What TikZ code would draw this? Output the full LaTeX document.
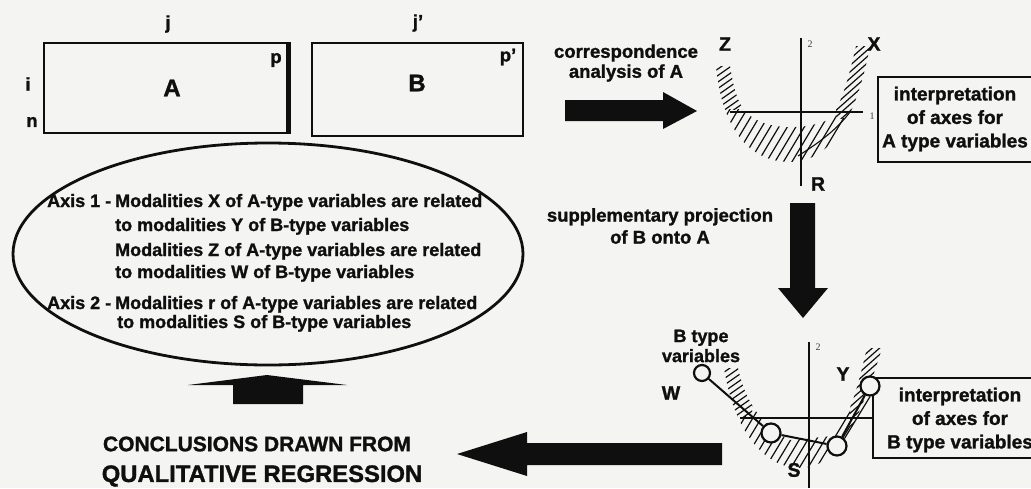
\documentclass[tikz,border=0pt]{standalone}
\usepackage{fontspec}
\setmainfont{Liberation Sans}[BoldFeatures={FakeBold=1.3}]
\newfontfamily\axisfont{Liberation Serif}
\usetikzlibrary{shapes.geometric}
\definecolor{paper}{RGB}{244,244,242}
\definecolor{ink}{RGB}{15,15,15}
\tikzset{
  lbl/.style={font=\fontsize{18.5}{20}\selectfont\bfseries, text=ink, inner sep=0pt},
  etxt/.style={font=\fontsize{18}{20}\selectfont\bfseries, text=ink, inner sep=0pt, anchor=base west},
  boxtxt/.style={font=\fontsize{19}{23.5}\selectfont\bfseries, text=ink, inner sep=0pt, align=center},
  letter/.style={font=\fontsize{19.5}{20}\selectfont\bfseries, text=ink, inner sep=0pt},
  axnum/.style={font=\fontsize{10}{10}\selectfont\axisfont, text=ink!80, inner sep=0pt},
  frame/.style={draw=ink, line width=2.5pt, inner sep=0pt},
  axisline/.style={draw=ink, line width=1.3pt},
  hatch/.style={draw=ink, line width=1.2pt},
  pt/.style={circle, draw=ink, line width=2.2pt, fill=paper, inner sep=0pt},
  conn/.style={draw=ink, line width=2pt},
  blockarrow/.style={fill=ink},
}
\begin{document}
\begin{tikzpicture}[x=1pt,y=-1pt]
\clip (0,0) rectangle (1031,488);
\fill[paper] (0,0) rectangle (1031,488);

% ---------- data tables A and B ----------
\node[frame, minimum width=244pt, minimum height=90pt] (matA) at (166,88) {};
\draw[ink, line width=5pt] ([xshift=-1pt]matA.north east) -- ([xshift=-1pt]matA.south east);
\node[frame, minimum width=211pt, minimum height=93pt] (matB) at (417.5,89.5) {};
\node[font=\fontsize{24}{24}\selectfont\bfseries, text=ink, inner sep=0pt] (labA) at (172,88) {A};
\node[font=\fontsize{24}{24}\selectfont\bfseries, text=ink, inner sep=0pt] (labB) at (417,83) {B};
\node[lbl] (colj)  at (168,24) {j};
\node[lbl] (colj2) at (418,23) {j'};
\node[lbl] (rowi)  at (28,84) {i};
\node[lbl] (rown)  at (32,122) {n};
\node[lbl] (colp)  at (276,60) {p};
\node[lbl] (colp2) at (508,57) {p'};

% ---------- step 1 ----------
\node[lbl, align=center] (step1) at (626,63) {correspondence\\analysis of A};
\fill[blockarrow] (565,100) -- (663,100) -- (663,92) -- (697,111) -- (663,129) -- (663,121) -- (565,121) -- cycle;

% ---------- factor plane of A ----------
\begin{scope}
  \clip (716,66) .. controls (722,130) and (750,162) .. (790,162)
        .. controls (830,162) and (856,120) .. (870,46) -- (856,46)
        .. controls (847,85) and (840,108) .. (828,120)
        .. controls (805,130) and (770,130) .. (752,117)
        .. controls (738,108) and (734,90) .. (730,66) -- cycle;
  % left arm
  \begin{scope}
    \clip (690,30) rectangle (742,109);
    \foreach \k in {0,...,20} \draw[hatch] (690,30+\k*6.5) -- ++(70,-49);
  \end{scope}
  % right arm
  \begin{scope}
    \clip (836,30) rectangle (900,118);
    \foreach \k in {0,...,22} \draw[hatch] (820,40+\k*6.5) -- ++(70,-62);
  \end{scope}
  % bottom of the curve
  \begin{scope}
    \clip (742,118) rectangle (900,200) (742,30) rectangle (836,118) (690,109) rectangle (742,200);
    \foreach \k in {0,...,36} \draw[hatch] (650+\k*8.5,200) -- ++(90,-150);
  \end{scope}
\end{scope}
\draw[ink, line width=1.1pt] (798,156) .. controls (815,145) and (835,132) .. (850,112);
\draw[axisline] (801,38) -- (801,186);
\draw[axisline] (730,112) -- (863,112);
\node[axnum] (a2) at (810,44) {2};
\node[axnum] (a1) at (872,116) {1};
\node[letter] (modZ) at (725,44) {Z};
\node[letter] (modX) at (874,44) {X};
\node[letter] (modR) at (818,184) {R};

\node[frame, minimum width=170pt, minimum height=85pt] (boxA) at (963,119.5) {};
\node[boxtxt] (txtA) at (955,119) {interpretation\\of axes for\\A type variables};

% ---------- step 2 ----------
\node[lbl, align=center, font=\fontsize{18.5}{22}\selectfont\bfseries] (step2) at (660,226) {supplementary projection\\of B onto A};
\fill[blockarrow] (790,203) -- (815,203) -- (815,288) -- (828,288) -- (803,318) -- (778,288) -- (790,288) -- cycle;

% ---------- factor plane with B projected ----------
\begin{scope}
  \clip (724,368) .. controls (734,432) and (765,468) .. (800,468)
        .. controls (838,468) and (860,420) .. (882,348) -- (867,348)
        .. controls (858,385) and (850,420) .. (832,436) -- (790,440)
        .. controls (760,425) and (745,400) .. (738,368) -- cycle;
  % left arm
  \begin{scope}
    \clip (700,340) rectangle (752,416);
    \foreach \k in {0,...,20} \draw[hatch] (700,350+\k*6.5) -- ++(70,-49);
  \end{scope}
  % right arm
  \begin{scope}
    \clip (850,330) rectangle (900,432);
    \foreach \k in {0,...,24} \draw[hatch] (830,340+\k*6.5) -- ++(70,-62);
  \end{scope}
  % bottom of the curve
  \begin{scope}
    \clip (752,432) rectangle (900,488) (752,330) rectangle (850,432) (700,416) rectangle (752,488);
    \foreach \k in {0,...,36} \draw[hatch] (650+\k*8.5,490) -- ++(100,-166);
  \end{scope}
\end{scope}
\draw[axisline] (809,342) -- (809,488);
\draw[axisline] (740,418) -- (872,418);
\node[axnum] (b2) at (818,347) {2};

\node[frame, minimum width=170pt, minimum height=80pt] (boxB) at (958,418) {};
\node[boxtxt] (txtB) at (960,420) {interpretation\\of axes for\\B type variables};

\node[pt, minimum size=16pt] (ptW) at (702,373) {};
\node[pt, minimum size=19pt] (ptA) at (771,433) {};
\node[pt, minimum size=19pt] (ptB) at (837,446) {};
\node[pt, minimum size=19pt] (ptY) at (870,386) {};
\draw[conn] (ptW) -- (ptA);
\draw[conn] (ptA) -- (ptB);
\draw[conn] (ptB) -- (ptY);
\draw[ink, line width=1.2pt] (ptB.north east) -- (ptY.south);

\node[lbl, align=center, font=\fontsize{18}{20}\selectfont\bfseries] (btype) at (701,346) {B type\\variables};
\node[letter] (modW) at (671,393) {W};
\node[letter] (modY) at (843,374) {Y};
\node[letter] (modS) at (794,470) {S};

% ---------- conclusions ----------
\fill[blockarrow] (722,443) -- (527,443) -- (527,432) -- (457,454) -- (527,476) -- (527,465) -- (722,465) -- cycle;
\node[font=\fontsize{21}{21}\selectfont\bfseries, text=ink, inner sep=0pt] (concl1) at (257,444) {CONCLUSIONS DRAWN FROM};
\node[font=\fontsize{23.8}{24}\selectfont\bfseries, text=ink, inner sep=0pt] (concl2) at (262,476) {QUALITATIVE REGRESSION};
\fill[blockarrow] (233,404) -- (233,385) -- (188,385) -- (267,375) -- (347,385) -- (303,385) -- (303,404) -- cycle;

\node[ellipse, draw=ink, line width=2.8pt, minimum width=510pt, minimum height=222pt, inner sep=0pt] (summary) at (268,254) {};
\node[etxt] (ax1) at (47,207) {Axis 1 -};
\node[etxt] (s1)  at (115,207) {Modalities X of A-type variables are related};
\node[etxt] (s2)  at (115,231) {to modalities Y of B-type variables};
\node[etxt] (s3)  at (115,256) {Modalities Z of A-type variables are related};
\node[etxt] (s4)  at (115,278) {to modalities W of B-type variables};
\node[etxt] (ax2) at (47,309) {Axis 2 -};
\node[etxt] (s5)  at (115,309) {Modalities r of A-type variables are related};
\node[etxt] (s6)  at (117,328) {to modalities S of B-type variables};
\end{tikzpicture}
\end{document}
